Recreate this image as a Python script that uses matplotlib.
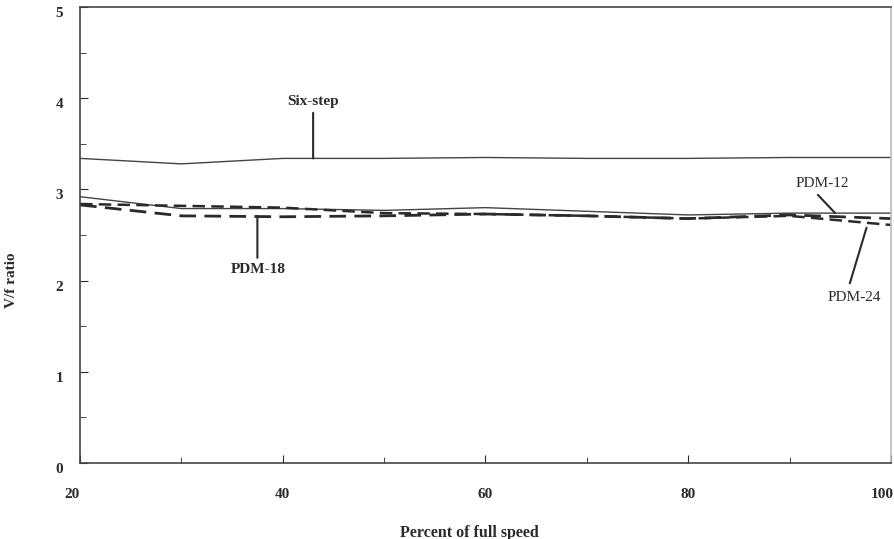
import matplotlib.pyplot as plt
import matplotlib.transforms as mtransforms
from matplotlib.ticker import MultipleLocator

speed = [20, 30, 40, 50, 60, 70, 80, 90, 100]
six_step = [3.34, 3.28, 3.34, 3.34, 3.35, 3.34, 3.34, 3.35, 3.35]
pdm_12 = [2.92, 2.79, 2.79, 2.77, 2.80, 2.76, 2.72, 2.74, 2.74]
pdm_18 = [2.83, 2.71, 2.70, 2.71, 2.73, 2.71, 2.68, 2.72, 2.68]
pdm_24 = [2.84, 2.82, 2.80, 2.74, 2.73, 2.71, 2.68, 2.71, 2.61]
x_ticks = [20, 40, 60, 80, 100]

plt.rcParams['font.family'] = ['Liberation Serif', 'DejaVu Serif']
plt.rcParams['font.weight'] = 'bold'

fig = plt.figure(figsize=(8.94, 5.39), dpi=100)
ax = fig.add_axes([0.0895, 0.141, 0.907, 0.846])

ink = '#2a2a2a'
ax.plot(speed, six_step, color='#444444', lw=1.0)
ax.plot(speed, pdm_12, color='#444444', lw=1.0)
ax.plot(speed, pdm_18, color=ink, lw=2.0, dashes=(6, 3))
ax.plot(speed, pdm_24, color=ink, lw=1.8, dashes=(5, 2.5))

ax.set_xlim(20, 100)
ax.set_ylim(0, 5)
ax.set_xticks(x_ticks)
ax.xaxis.set_minor_locator(MultipleLocator(10))
ax.yaxis.set_major_locator(MultipleLocator(1))
ax.yaxis.set_minor_locator(MultipleLocator(0.5))
ax.tick_params(which='both', direction='in', colors=ink, labelsize=11)
ax.tick_params(which='major', length=6)
ax.tick_params(which='minor', length=4)
ax.tick_params(axis='x', labelbottom=False)
ax.tick_params(axis='y', pad=12)
for s in ax.spines.values():
    s.set_color('#444444')
    s.set_linewidth(1.2)
ax.spines['right'].set_color('#bbbbbb')

# y labels sit a little below their ticks
fig.canvas.draw()
down = mtransforms.ScaledTranslation(0, -5 / 100, fig.dpi_scale_trans)
for lab in ax.get_yticklabels():
    lab.set_transform(lab.get_transform() + down)

# x tick labels drawn by hand so the end ones can be pulled inward
xtrans = ax.get_xaxis_transform()
for v in x_ticks:
    ha = 'center'
    t = xtrans
    if v == x_ticks[0]:
        t = xtrans + mtransforms.ScaledTranslation(-8 / 100, 0, fig.dpi_scale_trans)
    elif v == x_ticks[-1]:
        ha = 'right'
        t = xtrans + mtransforms.ScaledTranslation(3 / 100, 0, fig.dpi_scale_trans)
    ax.text(v, -0.068, str(v), transform=t, ha=ha, va='center',
            fontsize=11, color=ink, clip_on=False)

ax.set_xlabel('Percent of full speed', fontsize=11.5, color=ink, fontweight='bold')
ax.xaxis.set_label_coords(0.48, -0.135)
ax.set_ylabel('V/f ratio', fontsize=11, color=ink, fontweight='bold')
ax.yaxis.set_label_coords(-0.076, 0.40)

# curve labels with leader lines
pointer = dict(arrowstyle='-', color=ink, lw=1.5, shrinkA=0, shrinkB=0)
txt = dict(fontsize=11, color=ink, ha='center', va='center')
ax.annotate('', xy=(43.0, 3.34), xytext=(43.0, 3.84), arrowprops=pointer)
ax.text(43.0, 3.96, 'Six-step', **txt)
ax.annotate('', xy=(37.5, 2.71), xytext=(37.5, 2.25), arrowprops=pointer)
ax.text(37.6, 2.12, 'PDM-18', **txt)
ax.annotate('', xy=(94.5, 2.74), xytext=(92.8, 2.94), arrowprops=pointer)
ax.text(93.2, 3.07, 'PDM-12', **dict(txt, weight='normal'))
ax.annotate('', xy=(97.6, 2.58), xytext=(95.95, 1.97), arrowprops=pointer)
ax.text(96.4, 1.81, 'PDM-24', **dict(txt, weight='normal'))

fig.savefig('out.png', dpi=100, facecolor='white')
